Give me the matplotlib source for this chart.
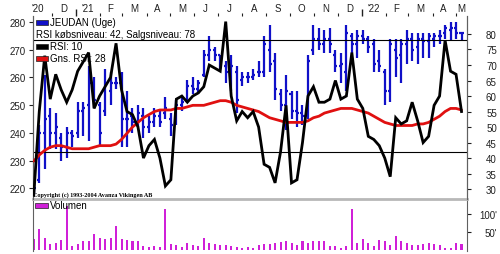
import matplotlib
matplotlib.use('Agg')
import matplotlib.pyplot as plt
import matplotlib.dates as mdates
import numpy as np
import pandas as pd
from matplotlib.patches import Rectangle

plt.rcParams['font.family'] = ['Liberation Sans', 'DejaVu Sans']

# ---------------- data ----------------
dates = pd.date_range('2020-11-08', periods=79, freq='7D')

price_low = [218, 222, 227, 234, 234, 230, 231, 235, 238, 239, 237, 249, 235, 246, 250, 256,
             235, 235, 240, 242, 238, 240, 242, 242, 245, 239, 243, 248, 251, 254, 254, 260,
             266, 266, 263, 258, 255, 247, 257, 258, 259, 260, 260, 262, 252, 248, 241, 245,
             242, 243, 245, 268, 270, 269, 269, 262, 258, 255, 269, 267, 272, 269, 262, 262,
             250, 251, 260, 258, 265, 266, 265, 267, 267, 271, 272, 274, 273, 274, 273]
price_high = [223, 243, 261, 249, 247, 240, 242, 241, 251, 251, 264, 260, 251, 263, 262, 260,
              262, 255, 249, 250, 249, 246, 249, 248, 253, 247, 252, 253, 259, 260, 259, 270,
              275, 271, 268, 266, 268, 264, 262, 262, 263, 266, 275, 279, 269, 256, 261, 255,
              255, 250, 268, 279, 278, 277, 278, 270, 269, 279, 276, 277, 277, 275, 274, 270,
              263, 274, 274, 274, 277, 276, 276, 276, 276, 276, 277, 279, 280, 280, 276]
price_open = [222, 223, 240, 246, 240, 238, 235, 240, 240, 248, 250, 258, 250, 248, 255, 258,
              258, 245, 246, 244, 246, 242, 244, 246, 247, 245, 244, 250, 252, 257, 256, 261,
              268, 270, 268, 264, 262, 262, 259, 260, 260, 262, 262, 270, 266, 254, 250, 254,
              248, 247, 247, 270, 274, 272, 274, 268, 264, 262, 275, 272, 275, 274, 272, 266,
              262, 255, 270, 268, 272, 274, 271, 274, 273, 274, 275, 276, 277, 278, 276]
price_close = [220, 240, 245, 240, 242, 235, 240, 239, 248, 249, 258, 252, 240, 258, 258, 258,
               245, 245, 244, 247, 242, 244, 246, 244, 249, 243, 250, 251, 257, 256, 258, 268,
               270, 268, 265, 262, 264, 252, 260, 260, 261, 262, 272, 265, 256, 250, 255, 248,
               247, 246, 266, 274, 272, 274, 272, 264, 265, 276, 272, 275, 274, 271, 265, 264,
               255, 272, 267, 272, 274, 270, 274, 273, 275, 275, 275, 278, 278, 276, 276]

rsi = [28, 55, 73, 59, 67, 62, 58, 62, 68, 71, 74, 56, 60, 63, 66, 77,
       62, 55, 54, 50, 40, 44, 46, 40, 31, 33, 59, 60, 58, 60, 61, 63,
       70, 69, 68, 84, 60, 52, 55, 53, 55, 50, 38, 37, 32, 42, 57, 32,
       33, 45, 60, 63, 58, 58, 59, 65, 59, 60, 74, 59, 56, 47, 46, 44,
       40, 34, 53, 51, 52, 58, 52, 45, 47, 57, 60, 78, 68, 67, 55]

rsi_avg = [39, 41, 42.5, 43.5, 44, 44, 43.5, 43, 43, 43, 43, 43.5, 44, 44, 44, 44.5,
           46, 48, 50, 51.5, 53, 54, 55, 55.5, 55.5, 55.5, 56, 56, 56.5, 57, 57, 57,
           57.5, 58, 58.5, 58.5, 58, 57, 56.5, 56, 55.5, 55, 54, 53, 52.5, 52, 51.5, 51.5,
           51.5, 51.5, 52, 53, 53.5, 54.5, 55, 55.5, 56, 56, 56, 55.5, 55, 54.5, 53.5, 52.5,
           51.5, 51, 50.5, 50.5, 50.5, 50.5, 51, 51, 51.5, 52.5, 53.5, 55, 56, 56, 55.5]

volume = [30, 58, 35, 17, 21, 28, 123, 12, 17, 24, 26, 44, 35, 30, 35, 67,
          30, 28, 24, 24, 12, 9, 12, 9, 114, 17, 15, 8, 21, 15, 12, 35,
          19, 17, 15, 15, 12, 9, 6, 9, 7, 15, 17, 17, 19, 22, 24, 19,
          15, 24, 21, 24, 24, 26, 12, 12, 7, 12, 114, 21, 30, 19, 12, 28,
          24, 15, 40, 24, 19, 15, 15, 17, 19, 17, 15, 7, 6, 19, 17]

price_ticks = [220, 230, 240, 250, 260, 270, 280]
rsi_ticks = [30, 35, 40, 45, 50, 55, 60, 65, 70, 75, 80]
vol_ticks = [50, 100]
vol_labels = ["50'", "100'"]
rsi_buy, rsi_sell = 42, 78

month_label_dates = ['2020-11-13', '2020-12-16', '2021-01-16', '2021-02-14', '2021-03-16',
                     '2021-04-15', '2021-05-16', '2021-06-15', '2021-07-16', '2021-08-16',
                     '2021-09-15', '2021-10-16', '2021-11-15', '2021-12-16', '2022-01-16',
                     '2022-02-14', '2022-03-16', '2022-04-15', '2022-05-08']
month_labels = ["'20", 'D', "'21", 'F', 'M', 'A', 'M', 'J', 'J', 'A', 'S', 'O', 'N', 'D',
                "'22", 'F', 'M', 'A', 'M']

BLUE = '#1010c8'
RED = '#e01010'
MAGENTA = '#d020d8'
GRAY = '#b8b8b8'

W, H = 500, 255
fig = plt.figure(figsize=(W / 100, H / 100), dpi=100)

def fx(px):
    return px / W

def fy(py):
    return 1 - py / H

ax = fig.add_axes([fx(33), fy(200), fx(467) - fx(33), fy(17) - fy(200)])
axv = fig.add_axes([fx(33), fy(252), fx(467) - fx(33), fy(200) - fy(252)], sharex=ax)
axr = ax.twinx()

x = mdates.date2num(dates)
half = 2.6
ax.vlines(x, price_low, price_high, color=BLUE, lw=1.6, zorder=2)
ax.hlines(price_open, x - half, x, color=BLUE, lw=1.6, zorder=2)
ax.hlines(price_close, x, x + half, color=BLUE, lw=1.6, zorder=2)

axr.axhline(rsi_sell, color='black', lw=0.8, zorder=1)
axr.axhline(rsi_buy, color='black', lw=0.8, zorder=1)
axr.plot(x, rsi_avg, color=RED, lw=2.0, zorder=3, solid_capstyle='round')
axr.plot(x, rsi, color='black', lw=2.0, zorder=4, solid_joinstyle='miter')

axv.bar(x, volume, width=2.6, color=MAGENTA, align='center')

# limits
ax.set_xlim(mdates.date2num(pd.Timestamp('2020-11-07')), mdates.date2num(pd.Timestamp('2022-05-15')))
ax.set_ylim(216.1, 282.2)
axr.set_ylim(26.8, 85.8)
axv.set_ylim(-2.5, 142)

# spines
for a in (ax, axr):
    a.spines['top'].set_visible(False)
    a.spines['bottom'].set_visible(False)
    a.spines['left'].set_color('#606060')
    a.spines['right'].set_color('#606060')
    a.spines['left'].set_linewidth(0.8)
    a.spines['right'].set_linewidth(0.8)
axv.spines['bottom'].set_visible(False)
axv.spines['top'].set_color(GRAY)
axv.spines['top'].set_linewidth(2)
axv.spines['left'].set_color('#606060')
axv.spines['right'].set_color('#606060')
axv.spines['left'].set_linewidth(0.8)
axv.spines['right'].set_linewidth(0.8)

# left price axis
ax.set_yticks(price_ticks)
ax.tick_params(axis='y', which='major', length=3, width=0.8, pad=2.5, labelsize=7, colors='#202020')

# right rsi axis
axr.set_yticks(rsi_ticks)
axr.tick_params(axis='y', which='major', length=3, width=0.8, pad=18.5, labelsize=7, colors='#202020')
for lab in axr.get_yticklabels():
    lab.set_horizontalalignment('right')

# volume axis
axv.yaxis.tick_right()
axv.set_yticks(vol_ticks)
axv.set_yticklabels(vol_labels)
axv.tick_params(axis='y', which='major', length=3, width=0.8, pad=18.5, labelsize=7, colors='#202020')
for lab in axv.get_yticklabels():
    lab.set_horizontalalignment('right')
axv.tick_params(axis='x', which='both', bottom=False, top=False, labelbottom=False)

# top month axis
ax.xaxis.tick_top()
ax.xaxis.set_major_locator(mdates.YearLocator())
ax.xaxis.set_minor_locator(mdates.MonthLocator())
ax.tick_params(axis='x', which='major', length=5, width=1.0, labeltop=False, labelbottom=False, colors='#202020')
ax.tick_params(axis='x', which='minor', length=2.5, width=0.8, colors='#202020')
sec = ax.secondary_xaxis('top')
sec.set_xticks(mdates.date2num(pd.to_datetime(month_label_dates)))
sec.set_xticklabels(month_labels)
sec.tick_params(axis='x', length=0, pad=2.0, labelsize=7, colors='#202020')
sec.spines['top'].set_visible(False)
axr.tick_params(axis='x', which='both', top=False, bottom=False, labeltop=False, labelbottom=False)

# legend (manual)
def patch(px0, py0, w, h, color):
    r = Rectangle((fx(px0), fy(py0 + h)), w / W, h / H, transform=fig.transFigure,
                  facecolor=color, edgecolor='#202020', lw=0.5, zorder=10)
    fig.add_artist(r)

fs = 7
patch(36, 20.5, 12, 5, BLUE)
fig.text(fx(50), fy(23.5), 'JEUDAN (Uge)', fontsize=fs, va='center', ha='left', zorder=11)
fig.text(fx(36), fy(34.5), 'RSI købsniveau: 42, Salgsniveau: 78', fontsize=fs, va='center', ha='left', zorder=11)
patch(36, 44.5, 12, 5, 'black')
fig.text(fx(50), fy(47), 'RSI: 10', fontsize=fs, va='center', ha='left', zorder=11)
patch(36, 56.5, 12, 5, RED)
fig.text(fx(50), fy(59), 'Gns. RSI: 28', fontsize=fs, va='center', ha='left', zorder=11)

patch(35, 203.5, 13, 5, MAGENTA)
fig.text(fx(50), fy(206), 'Volumen', fontsize=fs, va='center', ha='left', zorder=11)

fig.text(fx(33), fy(195), 'Copyright (c) 1993-2004 Avanza Vikingen AB', fontsize=4.4,
         family=['Liberation Serif', 'DejaVu Serif'], weight='bold', va='center', ha='left', zorder=11)

fig.savefig('out.png', dpi=100)
